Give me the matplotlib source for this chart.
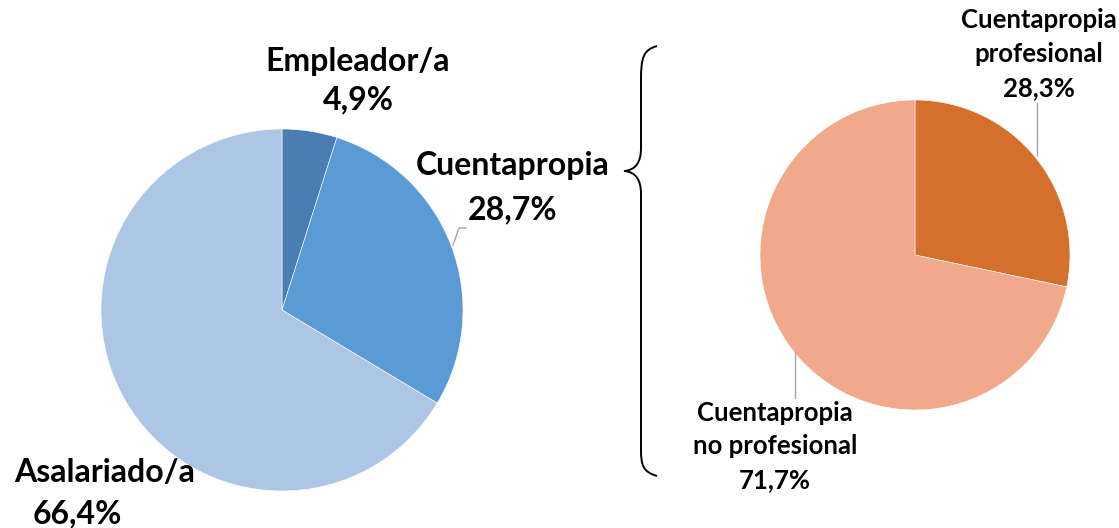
import matplotlib
matplotlib.use("Agg")
import matplotlib.pyplot as plt
from matplotlib.path import Path
from matplotlib.patches import PathPatch

# Data
left_labels = ["Empleador/a", "Cuentapropia", "Asalariado/a"]
left_values = [4.9, 28.7, 66.4]
left_colors = ["#4A7DB1", "#5B9BD5", "#AEC6E6"]

right_labels = ["Cuentapropia\nprofesional", "Cuentapropia\nno profesional"]
right_values = [28.3, 71.7]
right_colors = ["#D4702B", "#F1A98B"]

W, H = 1119, 528
fig = plt.figure(figsize=(W / 100, H / 100), dpi=100)
ax = fig.add_axes([0, 0, 1, 1])

def Y(py):
    return H - py

ax.pie(left_values, colors=left_colors, startangle=90, counterclock=False,
       center=(282, Y(310)), radius=181, frame=True,
       wedgeprops=dict(edgecolor="white", linewidth=0.4))
ax.pie(right_values, colors=right_colors, startangle=90, counterclock=False,
       center=(915, Y(255)), radius=155, frame=True,
       wedgeprops=dict(edgecolor="white", linewidth=0.4))
ax.set_xlim(0, W)
ax.set_ylim(0, H)
ax.set_aspect("equal")
ax.axis("off")

def fmt(v):
    return f"{v:.1f}".replace(".", ",") + "%"

big = dict(fontfamily="Lato", fontweight="bold", fontsize=23, color="black",
           ha="center", va="center")
small = dict(fontfamily="Lato", fontweight="bold", fontsize=18.5, color="black",
             ha="center", va="center")

ax.text(358, Y(62), left_labels[0], **big)
ax.text(358, Y(100), fmt(left_values[0]), **big)
ax.text(513, Y(166), left_labels[1], **big)
ax.text(513, Y(210), fmt(left_values[1]), **big)
ax.text(105, Y(473), left_labels[2], **big)
ax.text(77, Y(514), fmt(left_values[2]), **big)

for i, line in enumerate(right_labels[0].split("\n") + [fmt(right_values[0])]):
    ax.text(1039, Y(20 + 34 * i), line, **small)
for i, line in enumerate(right_labels[1].split("\n") + [fmt(right_values[1])]):
    ax.text(775, Y(413 + 33.5 * i), line, **small)

lc = "#A6A6A6"
ax.plot([453, 459, 466], [Y(245), Y(228), Y(228)], color=lc, lw=1)
ax.plot([1037, 1037], [Y(103), Y(155)], color=lc, lw=1)
ax.plot([795, 795], [Y(352), Y(398)], color=lc, lw=1)

# Brace
verts = [
    (657, Y(46)),
    (643, Y(50)), (641, Y(58)), (641, Y(80)),
    (641, Y(148)),
    (641, Y(162)), (636, Y(170)), (624, Y(171)),
    (636, Y(172)), (641, Y(180)), (641, Y(194)),
    (641, Y(450)),
    (641, Y(465)), (643, Y(472)), (657, Y(476)),
]
codes = [Path.MOVETO,
         Path.CURVE4, Path.CURVE4, Path.CURVE4,
         Path.LINETO,
         Path.CURVE4, Path.CURVE4, Path.CURVE4,
         Path.CURVE4, Path.CURVE4, Path.CURVE4,
         Path.LINETO,
         Path.CURVE4, Path.CURVE4, Path.CURVE4]
ax.add_patch(PathPatch(Path(verts, codes), fill=False, edgecolor="black", lw=1.4))

fig.savefig("out.png", dpi=100)
